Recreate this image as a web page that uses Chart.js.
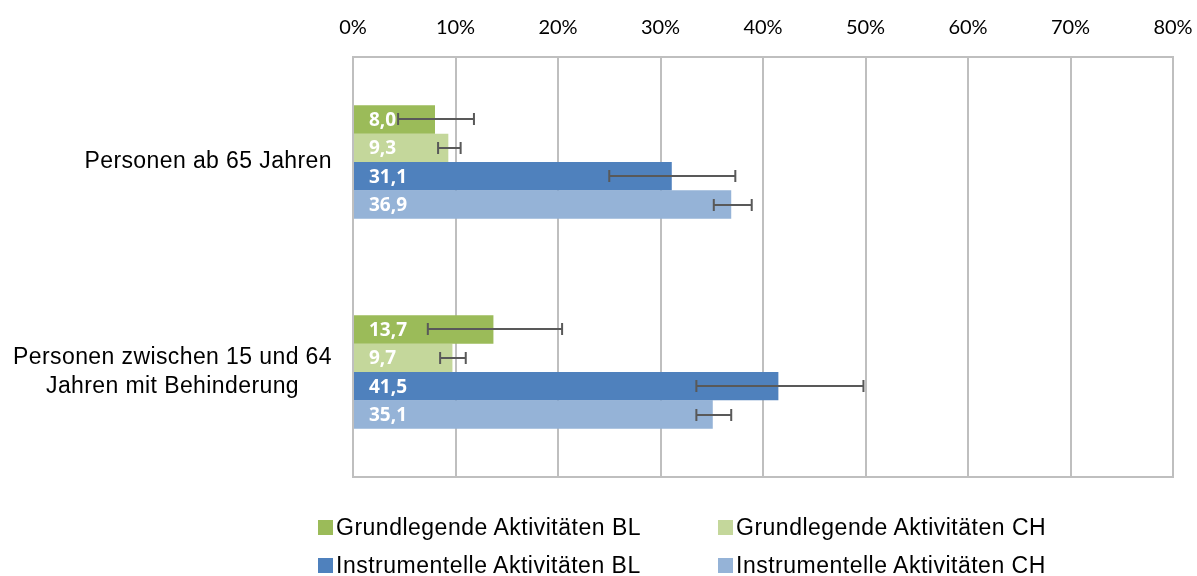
<!DOCTYPE html>
<html>
<head>
<meta charset="utf-8">
<script src="https://cdn.jsdelivr.net/npm/chart.js@4/dist/chart.umd.min.js"></script>
<style>
  body { margin: 0; background: #fff; }
  #wrap { position: relative; width: 1197px; height: 576px; }
  #legend { position: absolute; left: 0; top: 0; width: 1197px; height: 576px; pointer-events: none; }
  .item { position: absolute; display: flex; align-items: center; font-family: "Liberation Sans", Arial, sans-serif; font-size: 23px; letter-spacing: 0.5px; color: #000; white-space: nowrap; }
  .box { width: 15px; height: 15px; margin-right: 3px; }
</style>
</head>
<body>
<div id="wrap">
  <canvas id="chart" width="1197" height="576"></canvas>
  <div id="legend"></div>
</div>
<script>
const categories = ['Personen ab 65 Jahren', ['Personen zwischen 15 und 64', 'Jahren mit Behinderung']];
const seriesNames = ['Grundlegende Aktivitäten BL', 'Grundlegende Aktivitäten CH', 'Instrumentelle Aktivitäten BL', 'Instrumentelle Aktivitäten CH'];
const grundBL = [8.0, 13.7];
const grundCH = [9.3, 9.7];
const instrBL = [31.1, 41.5];
const instrCH = [36.9, 35.1];
// confidence intervals (low / high)
const grundBLLow = [4.4, 7.3];
const grundBLHigh = [11.8, 20.4];
const grundCHLow = [8.3, 8.5];
const grundCHHigh = [10.5, 11.0];
const instrBLLow = [25.0, 33.5];
const instrBLHigh = [37.3, 49.8];
const instrCHLow = [35.2, 33.5];
const instrCHHigh = [38.9, 36.9];
const xTicks = ['0%', '10%', '20%', '30%', '40%', '50%', '60%', '70%', '80%'];

const colors = ['#9BBB59', '#C4D79B', '#4F81BD', '#95B3D7'];
const seriesValues = [grundBL, grundCH, instrBL, instrCH];
const seriesLow = [grundBLLow, grundCHLow, instrBLLow, instrCHLow];
const seriesHigh = [grundBLHigh, grundCHHigh, instrBLHigh, instrCHHigh];

const frame = {
    id: 'frame',
    beforeDatasetsDraw(chart) {
        const a = chart.chartArea;
        const ctx = chart.ctx;
        ctx.save();
        ctx.strokeStyle = '#BFBFBF';
        ctx.lineWidth = 2;
        ctx.strokeRect(a.left, a.top, a.right - a.left, a.bottom - a.top);
        ctx.restore();
    }
};

const catLabels = {
    id: 'catLabels',
    afterDraw(chart) {
        const ctx = chart.ctx;
        const y = chart.scales.y;
        const right = chart.chartArea.left - 21;
        ctx.save();
        ctx.font = '23px "Liberation Sans", Arial, sans-serif';
        ctx.letterSpacing = '0.4px';
        ctx.fillStyle = '#000';
        ctx.textAlign = 'center';
        ctx.textBaseline = 'middle';
        categories.forEach(function (label, i) {
            const lines = Array.isArray(label) ? label : [label];
            const widest = Math.max.apply(null, lines.map(l => ctx.measureText(l).width));
            const cx = right - widest / 2;
            const cy = y.getPixelForValue(i);
            const lh = 29;
            lines.forEach(function (line, k) {
                ctx.fillText(line, cx, cy + (k - (lines.length - 1) / 2) * lh);
            });
        });
        ctx.restore();
    }
};

const barLabelsAndErrors = {
    id: 'barLabelsAndErrors',
    afterDatasetsDraw(chart) {
        const ctx = chart.ctx;
        const x = chart.scales.x;
        ctx.save();
        // value labels
        ctx.font = 'bold 19px "Open Sans", sans-serif';
        ctx.fillStyle = '#fff';
        ctx.textAlign = 'left';
        ctx.textBaseline = 'middle';
        chart.data.datasets.forEach(function (ds, i) {
            chart.getDatasetMeta(i).data.forEach(function (bar, j) {
                ctx.fillText(ds.data[j].toFixed(1).replace('.', ','), bar.base + 15, bar.y + 1);
            });
        });
        // error bars
        ctx.strokeStyle = '#595959';
        ctx.lineWidth = 2;
        chart.data.datasets.forEach(function (ds, i) {
            chart.getDatasetMeta(i).data.forEach(function (bar, j) {
                const x1 = x.getPixelForValue(seriesLow[i][j]);
                const x2 = x.getPixelForValue(seriesHigh[i][j]);
                const yy = Math.round(bar.y);
                ctx.beginPath();
                ctx.moveTo(x1, yy); ctx.lineTo(x2, yy);
                ctx.moveTo(x1, yy - 6); ctx.lineTo(x1, yy + 6);
                ctx.moveTo(x2, yy - 6); ctx.lineTo(x2, yy + 6);
                ctx.stroke();
            });
        });
        ctx.restore();
    }
};

const ctx = document.getElementById('chart').getContext('2d');
new Chart(ctx, {
    type: 'bar',
    data: {
        labels: categories,
        datasets: seriesNames.map(function (name, i) {
            return {
                label: name,
                data: seriesValues[i],
                backgroundColor: colors[i],
                borderWidth: 0,
                categoryPercentage: 0.54,
                barPercentage: 1.0
            };
        })
    },
    options: {
        indexAxis: 'y',
        responsive: false,
        animation: false,
        layout: { padding: { left: 353, right: 24, top: 0, bottom: 99 } },
        scales: {
            x: {
                position: 'top',
                min: 0,
                max: 80,
                ticks: {
                    stepSize: 10,
                    padding: 17,
                    color: '#000',
                    font: { family: 'Lato', size: 20 },
                    callback: function (v, idx) { return xTicks[idx]; }
                },
                grid: { color: '#BFBFBF', lineWidth: 2, drawTicks: false },
                border: { display: false },
                afterFit: function (scale) {
                    scale.height = 57;
                    scale.paddingLeft = 0;
                    scale.paddingRight = 0;
                }
            },
            y: { display: false }
        },
        plugins: {
            legend: { display: false },
            tooltip: { enabled: false }
        }
    },
    plugins: [frame, barLabelsAndErrors, catLabels]
});

// legend in two columns
const legend = document.getElementById('legend');
const legendPos = [[318, 528], [718, 528], [318, 566], [718, 566]];
seriesNames.forEach(function (name, i) {
    const item = document.createElement('div');
    item.className = 'item';
    item.style.left = legendPos[i][0] + 'px';
    item.style.top = (legendPos[i][1] - 14) + 'px';
    item.innerHTML = '<span class="box" style="background:' + colors[i] + '"></span><span>' + name + '</span>';
    legend.appendChild(item);
});
</script>
</body>
</html>
